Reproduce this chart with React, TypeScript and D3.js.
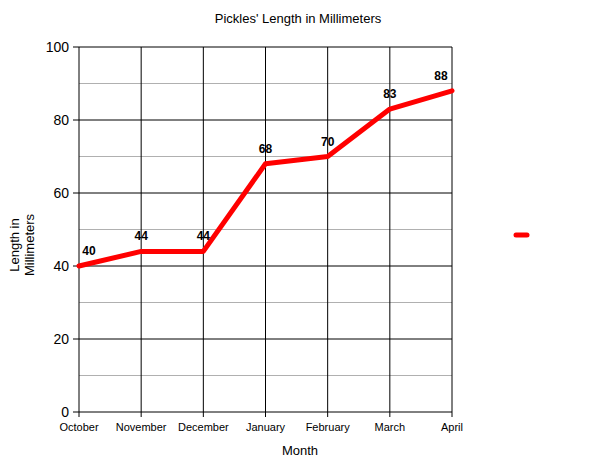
import React from 'react';
import * as d3 from 'd3';

const months = ['October', 'November', 'December', 'January', 'February', 'March', 'April'];
const lengths = [40, 44, 44, 68, 70, 83, 88];
const majorTicks = [0, 20, 40, 60, 80, 100];
const minorTicks = [10, 30, 50, 70, 90];

const width = 600;
const height = 463;
const left = 79;
const right = 452;
const top = 47;
const bottom = 412;

const App: React.FC = () => {
  const x = d3.scalePoint<string>().domain(months).range([left, right]);
  const y = d3.scaleLinear().domain([0, 100]).range([bottom, top]);

  const line = d3.line<number>()
    .x((_, i) => x(months[i]) as number)
    .y(d => y(d));

  const font = '"Liberation Sans", Arial, sans-serif';

  return (
    <svg width={width} height={height} style={{ position: 'absolute', left: 0, top: 0, fontFamily: font }}>
      <rect width={width} height={height} fill="#fff" />
      <text x={298} y={23} textAnchor="middle" fontSize={13}>Pickles' Length in Millimeters</text>

      {/* minor grid */}
      {minorTicks.map(t => (
        <line key={'m' + t} x1={left} x2={right} y1={y(t)} y2={y(t)} stroke="#b0b0b0" strokeWidth={1} />
      ))}
      {/* major grid */}
      {majorTicks.map(t => (
        <g key={'y' + t}>
          <line x1={left - 6} x2={right} y1={y(t)} y2={y(t)} stroke="#000" strokeWidth={1} />
          <text x={left - 10} y={y(t) + 5} textAnchor="end" fontSize={14}>{t}</text>
        </g>
      ))}
      {months.map(m => (
        <g key={m}>
          <line x1={x(m)} x2={x(m)} y1={top} y2={bottom + 5} stroke="#000" strokeWidth={1} />
          <text x={x(m)} y={bottom + 19} textAnchor="middle" fontSize={11}>{m}</text>
        </g>
      ))}

      <path d={line(lengths) || ''} fill="none" stroke="#ff0000" strokeWidth={5} strokeLinejoin="round" strokeLinecap="round" />

      {lengths.map((v, i) => {
        const cx = Math.min(Math.max(x(months[i]) as number, left + 10), right - 11);
        return (
          <text key={'l' + i} x={cx} y={y(v) - 11} textAnchor="middle" fontSize={12} fontWeight="bold">{v}</text>
        );
      })}

      <line x1={516} x2={527} y1={235} y2={235} stroke="#ff0000" strokeWidth={5} strokeLinecap="round" />

      <text x={300} y={455} textAnchor="middle" fontSize={13}>Month</text>
      <text transform="translate(0,245) rotate(-90)" textAnchor="middle" fontSize={13}>
        <tspan x={0} y={19}>Length in</tspan>
        <tspan x={0} y={34}>Millimeters</tspan>
      </text>
    </svg>
  );
};

export default App;
